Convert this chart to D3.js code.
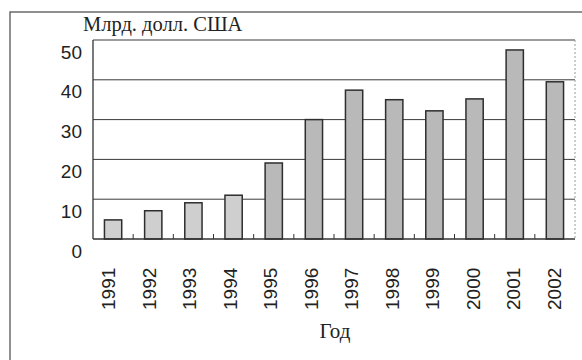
<!DOCTYPE html>
<html><head><meta charset="utf-8">
<script src="https://cdn.jsdelivr.net/npm/d3@7"></script>
<style>html,body{margin:0;padding:0;background:#fff;}svg{display:block;}</style>
</head><body>
<svg id="chart" width="582" height="360"></svg>
<script>
const years = ["1991","1992","1993","1994","1995","1996","1997","1998","1999","2000","2001","2002"];
const values = [4.8, 7.1, 9.1, 11, 19.1, 30, 37.4, 35, 32.2, 35.2, 47.5, 39.5];
const yTicks = [0, 10, 20, 30, 40, 50];
const yTitle = "Млрд. долл. США";
const xTitle = "Год";

const svg = d3.select("#chart");
const pLeft = 93, pRight = 575, pTop = 40, pBottom = 239;

// outer frame
svg.append("rect").attr("x", 10).attr("y", 12).attr("width", 580).attr("height", 360)
  .attr("fill", "none").attr("stroke", "#555").attr("stroke-width", 1.3);

const x = d3.scaleBand().domain(years).range([pLeft, pRight]).paddingInner(0.57).paddingOuter(0.285);
const y = d3.scaleLinear().domain([0, 50]).range([pBottom, pTop]);
// label positions of the year texts (slightly left of the bar centres in the reference)
const xl = d3.scalePoint().domain(years).range([108.5, 554]);

// gridlines
svg.append("g").selectAll("line").data(yTicks.filter(d => d > 0)).join("line")
  .attr("x1", pLeft).attr("x2", pRight).attr("y1", d => y(d)).attr("y2", d => y(d))
  .attr("stroke", "#3a3a3a").attr("stroke-width", 1);

// right border (light dotted)
svg.append("line").attr("x1", pRight).attr("x2", pRight).attr("y1", pTop).attr("y2", pBottom)
  .attr("stroke", "#999").attr("stroke-width", 1).attr("stroke-dasharray", "2,2");

// bars
svg.append("g").selectAll("rect").data(years).join("rect")
  .attr("x", d => x(d)).attr("width", x.bandwidth())
  .attr("y", (d, i) => y(values[i])).attr("height", (d, i) => y(0) - y(values[i]))
  .attr("fill", (d, i) => i < 4 ? "#cfcfcf" : "#b9b9b9")
  .attr("stroke", "#2e2e2e").attr("stroke-width", 1.5);

// axes lines
svg.append("line").attr("x1", pLeft).attr("x2", pLeft).attr("y1", pTop).attr("y2", pBottom)
  .attr("stroke", "#333").attr("stroke-width", 1.3);
svg.append("line").attr("x1", pLeft).attr("x2", pRight).attr("y1", pBottom).attr("y2", pBottom)
  .attr("stroke", "#333").attr("stroke-width", 1.5);

// small boundary ticks
svg.append("g").selectAll("line").data(years.slice(1)).join("line")
  .attr("x1", d => x(d) - x.step() * x.paddingInner() / 2)
  .attr("x2", d => x(d) - x.step() * x.paddingInner() / 2)
  .attr("y1", pBottom - 5).attr("y2", pBottom)
  .attr("stroke", "#333").attr("stroke-width", 1);

// y tick labels (offset below gridlines as in the reference)
svg.append("g").selectAll("text").data(yTicks).join("text")
  .attr("x", 82).attr("y", d => y(d) + 12).attr("dy", "0.35em")
  .attr("text-anchor", "end")
  .attr("font-family", "Liberation Sans, Arial, sans-serif").attr("font-size", 19)
  .attr("fill", "#222").text(d => d);

// x labels rotated
svg.append("g").selectAll("text").data(years).join("text")
  .attr("transform", d => `translate(${xl(d)},310) rotate(-90)`)
  .attr("dy", "0.35em").attr("text-anchor", "start")
  .attr("font-family", "Liberation Sans, Arial, sans-serif").attr("font-size", 19)
  .attr("fill", "#222").text(d => d);

// titles
svg.append("text").attr("x", 83).attr("y", 31)
  .attr("font-family", "Liberation Serif, Times New Roman, serif").attr("font-size", 20.5)
  .attr("fill", "#222").text(yTitle);
svg.append("text").attr("x", 335).attr("y", 338).attr("text-anchor", "middle")
  .attr("font-family", "Liberation Serif, Times New Roman, serif").attr("font-size", 21)
  .attr("fill", "#222").text(xTitle);
</script>
</body></html>
